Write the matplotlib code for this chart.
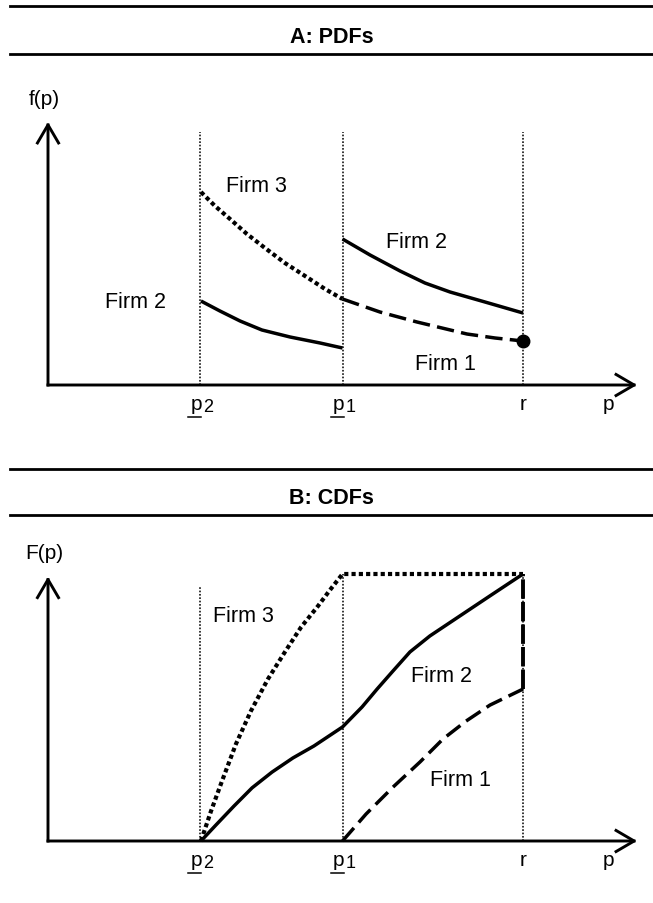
import matplotlib
matplotlib.use('Agg')
import matplotlib.pyplot as plt
from matplotlib.lines import Line2D
import matplotlib.transforms as mtransforms

plt.rcParams['font.family'] = ['Liberation Sans', 'DejaVu Sans']

W, H, DPI = 653, 904, 100

# ---------------- data ----------------
P2, P1, R = 0.80, 1.55, 2.50      # price levels: p_2, p_1, r
X_END = 3.10
tick_positions = [P2, P1, R]
tick_subs = ['2', '1', None]
tick_main = ['p', 'p', 'r']

# Panel A: PDFs
firm3_pdf_x = [0.805, 0.879, 0.958, 1.047, 1.142, 1.247, 1.353, 1.458, 1.55]
firm3_pdf_y = [1.93, 1.79, 1.66, 1.51, 1.37, 1.22, 1.09, 0.96, 0.86]
firm1_pdf_x = [1.55, 1.747, 1.942, 2.205, 2.353, 2.50]
firm1_pdf_y = [0.86, 0.73, 0.63, 0.51, 0.47, 0.44]
firm2_pdf_low_x = [0.805, 0.905, 1.011, 1.126, 1.274, 1.432, 1.55]
firm2_pdf_low_y = [0.84, 0.74, 0.64, 0.55, 0.48, 0.42, 0.37]
firm2_pdf_high_x = [1.55, 1.695, 1.853, 1.984, 2.116, 2.30, 2.50]
firm2_pdf_high_y = [1.46, 1.30, 1.14, 1.02, 0.93, 0.83, 0.72]
firm1_atom = (2.50, 0.44)
pdf_ymax = 2.63
pdf_guide_top = 2.53

# Panel B: CDFs
firm3_cdf_x = [0.805, 0.858, 0.916, 0.989, 1.068, 1.158, 1.247, 1.332, 1.421, 1.484, 1.55, 2.50]
firm3_cdf_y = [0.0, 0.112, 0.225, 0.363, 0.487, 0.607, 0.708, 0.801, 0.880, 0.940, 1.00, 1.00]
firm2_cdf_x = [0.805, 0.884, 0.979, 1.074, 1.179, 1.289, 1.40, 1.55,
               1.653, 1.732, 1.816, 1.905, 2.01, 2.168, 2.326, 2.50]
firm2_cdf_y = [0.0, 0.06, 0.131, 0.199, 0.258, 0.311, 0.356, 0.427,
               0.502, 0.569, 0.637, 0.708, 0.768, 0.843, 0.918, 1.00]
firm1_cdf_x = [1.55, 1.674, 1.816, 1.958, 2.079, 2.20, 2.326, 2.50]
firm1_cdf_y = [0.0, 0.101, 0.202, 0.296, 0.382, 0.449, 0.509, 0.569]
firm1_jump_y = [0.569, 1.00]
cdf_ymax = 0.99
cdf_guide_tops = [0.95, 1.00, 1.00]

# labels (text, x, y)
pdf_labels = [('Firm 3', 1.095, 1.99), ('Firm 2', 1.94, 1.44),
              ('Firm 2', 0.458, 0.83), ('Firm 1', 2.09, 0.21)]
cdf_labels = [('Firm 3', 1.026, 0.843), ('Firm 2', 2.07, 0.618),
              ('Firm 1', 2.17, 0.232)]

# ---------------- styles ----------------
DOT = dict(color='black', lw=3.0, linestyle=(0, (1.0, 0.75)),
           dash_capstyle='butt', clip_on=False)
DASH = dict(color='black', lw=2.5, linestyle=(0, (5.0, 2.1)),
            dash_capstyle='butt', clip_on=False)
SOLID = dict(color='black', lw=2.5, solid_capstyle='butt',
             solid_joinstyle='round', clip_on=False)
GUIDE = dict(color='black', lw=1.1, linestyle=(0, (1.1, 1.1)), clip_on=False)
FS_LABEL = 15.5
FS_TICK = 15

fig = plt.figure(figsize=(W / DPI, H / DPI), dpi=DPI)


def px_axes(x0, x1, y_top, y_bot):
    return fig.add_axes([x0 / W, 1 - y_bot / H, (x1 - x0) / W, (y_bot - y_top) / H])


def header(y_line1, y_line2, title):
    for yy in (y_line1, y_line2):
        fig.add_artist(Line2D([10 / W, 1.0], [1 - yy / H, 1 - yy / H],
                              color='black', lw=2.0))
    fig.text((10 / W + 1.0) / 2, 1 - (y_line2 - 12) / H, title, ha='center',
             va='baseline', fontsize=15.5, fontweight='bold')


def draw_axes(ax, ymax, ylabel):
    ax.set_xlim(0, X_END)
    ax.axis('off')
    ap = dict(arrowstyle='->,head_length=0.65,head_width=0.38', lw=2.1,
              color='black', shrinkA=0, shrinkB=0, mutation_scale=20,
              capstyle='projecting')
    ax.annotate('', xy=(X_END, 0), xytext=(0, 0), arrowprops=ap,
                annotation_clip=False)
    ax.annotate('', xy=(0, ymax), xytext=(0, 0), arrowprops=ap,
                annotation_clip=False)
    ax.text(-0.02, ymax * 1.09, ylabel, ha='center', va='center',
            fontsize=15, clip_on=False)
    # tick labels
    base = mtransforms.offset_copy(ax.transData, fig=fig, x=0, y=-24, units='dots')
    for xp, m, s in zip(tick_positions, tick_main, tick_subs):
        if s is None:
            ax.text(xp, 0, m, transform=base, ha='center', va='baseline',
                    fontsize=FS_TICK)
        else:
            tm = mtransforms.offset_copy(ax.transData, fig=fig, x=2, y=-24, units='dots')
            ax.text(xp, 0, m, transform=tm, ha='right', va='baseline',
                    fontsize=FS_TICK)
            ts = mtransforms.offset_copy(ax.transData, fig=fig, x=3, y=-26, units='dots')
            ax.text(xp, 0, s, transform=ts, ha='left', va='baseline',
                    fontsize=13)
            tu = mtransforms.offset_copy(ax.transData, fig=fig, x=1, y=-32, units='dots')
            ax.add_line(Line2D([xp - 0.068, xp], [0, 0], transform=tu,
                               color='black', lw=1.1, clip_on=False))
    ax.text(X_END - 0.15, 0, 'p', transform=base, ha='center', va='baseline',
            fontsize=FS_TICK)


# ---------------- Panel A ----------------
header(7, 55, 'A: PDFs')
axA = px_axes(48, 637, 123, 386)
axA.set_ylim(0, pdf_ymax)
for xp in tick_positions:
    axA.plot([xp, xp], [0, pdf_guide_top], **GUIDE)
axA.plot(firm3_pdf_x, firm3_pdf_y, **DOT)
axA.plot(firm1_pdf_x, firm1_pdf_y, **DASH)
axA.plot(firm2_pdf_low_x, firm2_pdf_low_y, **SOLID)
axA.plot(firm2_pdf_high_x, firm2_pdf_high_y, **SOLID)
axA.plot([firm1_atom[0]], [firm1_atom[1]], 'o', color='black', ms=9, clip_on=False)
for t, x, y in pdf_labels:
    axA.text(x, y, t, ha='center', va='center', fontsize=FS_LABEL)
draw_axes(axA, pdf_ymax, 'f(p)')

# ---------------- Panel B ----------------
header(470, 516, 'B: CDFs')
axB = px_axes(48, 637, 575, 842)
axB.set_ylim(0, 1.0)
for xp, top in zip(tick_positions, cdf_guide_tops):
    axB.plot([xp, xp], [0, top], **GUIDE)
axB.plot(firm3_cdf_x, firm3_cdf_y, **DOT)
axB.plot(firm2_cdf_x, firm2_cdf_y, **SOLID)
axB.plot(firm1_cdf_x, firm1_cdf_y, **DASH)
axB.plot([R, R], firm1_jump_y, color='black', lw=2.8,
         linestyle=(0, (5, 0.8)), clip_on=False)
for t, x, y in cdf_labels:
    axB.text(x, y, t, ha='center', va='center', fontsize=FS_LABEL)
draw_axes(axB, cdf_ymax, 'F(p)')

fig.savefig('out.png', dpi=DPI)
